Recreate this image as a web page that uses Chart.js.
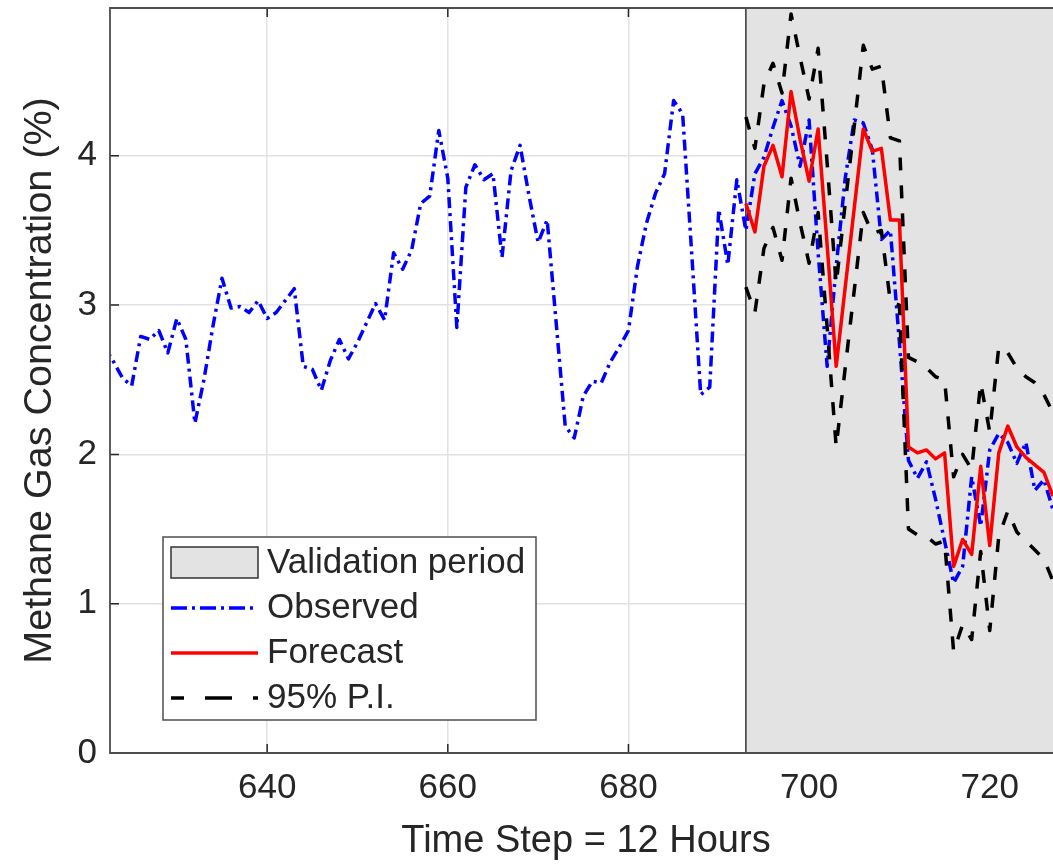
<!DOCTYPE html>
<html>
<head>
<meta charset="utf-8">
<title>Methane Gas Concentration</title>
<script src="https://cdn.jsdelivr.net/npm/chart.js@4.4.1/dist/chart.umd.min.js"></script>
<style>
    html, body { margin: 0; padding: 0; overflow: hidden; background: #fff; }
    canvas { display: block; }
</style>
</head>
<body>
<canvas id="myChart" width="1070" height="864"></canvas>
<script>
// observed series, one value per 12-hour step starting at step 622
var obsStart = 622;
var observed = [
    2.72, 2.62, 2.51, 2.46, 2.79, 2.77, 2.83, 2.68, 2.91, 2.77,
    2.21, 2.50, 2.86, 3.18, 2.98, 2.99, 2.95, 3.03, 2.91, 2.95,
    3.03, 3.11, 2.59, 2.57, 2.43, 2.63, 2.77, 2.64, 2.75, 2.88,
    3.01, 2.90, 3.35, 3.24, 3.37, 3.68, 3.73, 4.17, 3.85, 2.85,
    3.79, 3.94, 3.84, 3.88, 3.32, 3.90, 4.07, 3.73, 3.42, 3.57,
    2.88, 2.19, 2.11, 2.39, 2.49, 2.48, 2.62, 2.72, 2.83, 3.26,
    3.55, 3.75, 3.88, 4.37, 4.28, 3.35, 2.40, 2.45, 3.64, 3.27,
    3.84, 3.50, 3.88, 3.99, 4.19, 4.37, 4.20, 3.93, 4.24, 3.35,
    2.59, 3.26, 3.85, 4.24, 4.22, 4.04, 3.44, 3.50, 2.75, 1.96,
    1.84, 1.95, 1.70, 1.42, 1.14, 1.25, 1.85, 1.52, 2.03, 2.14,
    2.08, 1.94, 2.08, 1.76, 1.83, 1.63
];

// forecast and 95% prediction interval, starting at step 693
var fcStart = 693;
var forecast = [
    3.68, 3.49, 3.93, 4.07, 3.86, 4.43, 4.11, 3.83, 4.18, 3.40,
    2.59, 3.12, 3.65, 4.18, 4.03, 4.05, 3.57, 3.57, 2.05, 2.01,
    2.03, 1.97, 2.01, 1.25, 1.43, 1.33, 1.92, 1.39, 2.01, 2.19,
    2.05, 1.98, 1.93, 1.88, 1.72
];
var upperPI = [
    4.26, 4.05, 4.48, 4.62, 4.42, 4.95, 4.66, 4.38, 4.72, 3.95,
    3.14, 3.68, 4.20, 4.74, 4.58, 4.60, 4.12, 4.10, 2.65, 2.62,
    2.58, 2.52, 2.50, 1.85, 2.00, 1.90, 2.48, 2.15, 2.72, 2.68,
    2.58, 2.52, 2.48, 2.40, 2.28
];
var lowerPI = [
    3.12, 2.95, 3.38, 3.52, 3.30, 3.85, 3.55, 3.28, 3.62, 2.85,
    2.05, 2.58, 3.10, 3.62, 3.48, 3.50, 3.02, 3.00, 1.50, 1.46,
    1.45, 1.40, 1.42, 0.68, 0.86, 0.76, 1.35, 0.82, 1.45, 1.62,
    1.48, 1.42, 1.36, 1.30, 1.15
];

var validationStart = 693;
var xTicks = [640, 660, 680, 700, 720];
var yTicks = [0, 1, 2, 3, 4];
var legendLabels = ['Validation period', 'Observed', 'Forecast', '95% P.I.'];

var fontFamily = '"Liberation Sans", Arial, Helvetica, sans-serif';
var textColor = '#262626';
var patchColor = '#e3e3e3';

function toPoints(start, values) {
    return values.map(function (v, i) {
        return { x: start + i, y: v };
    });
}

// shaded validation period, MATLAB-like box axes and the legend
var periodPlugin = {
    id: 'periodPlugin',
    beforeDatasetsDraw: function (chart) {
        var ctx = chart.ctx;
        var area = chart.chartArea;
        var xs = chart.scales.x;
        var ys = chart.scales.y;
        ctx.save();
        ctx.strokeStyle = textColor;
        ctx.lineWidth = 1.5;
        ctx.beginPath();
        xTicks.forEach(function (t) {
            var px = xs.getPixelForValue(t);
            ctx.moveTo(px, area.bottom);
            ctx.lineTo(px, area.bottom - 9);
            ctx.moveTo(px, area.top);
            ctx.lineTo(px, area.top + 9);
        });
        yTicks.forEach(function (t) {
            var py = ys.getPixelForValue(t);
            ctx.moveTo(area.left, py);
            ctx.lineTo(area.left + 9, py);
        });
        ctx.stroke();

        var x0 = xs.getPixelForValue(validationStart);
        ctx.fillStyle = patchColor;
        ctx.fillRect(x0, area.top, area.right - x0, area.bottom - area.top);
        ctx.strokeStyle = '#333333';
        ctx.lineWidth = 1.5;
        ctx.beginPath();
        ctx.moveTo(x0, area.top);
        ctx.lineTo(x0, area.bottom);
        ctx.stroke();
        ctx.restore();
    },
    afterDatasetsDraw: function (chart) {
        var ctx = chart.ctx;
        var area = chart.chartArea;
        ctx.save();
        ctx.strokeStyle = '#4d4d4d';
        ctx.lineWidth = 1.8;
        ctx.beginPath();
        ctx.moveTo(area.right, area.top);
        ctx.lineTo(area.left, area.top);
        ctx.lineTo(area.left, area.bottom);
        ctx.lineTo(area.right, area.bottom);
        ctx.stroke();
        ctx.restore();
    },
    afterDraw: function (chart) {
        var ctx = chart.ctx;
        var left = 163, top = 537, right = 536, bottom = 720;
        var rowY = [563, 608, 653, 698];
        var sx0 = 171, sx1 = 258, tx = 267;
        ctx.save();
        ctx.fillStyle = '#ffffff';
        ctx.fillRect(left, top, right - left, bottom - top);
        ctx.strokeStyle = '#4d4d4d';
        ctx.lineWidth = 1.5;
        ctx.strokeRect(left, top, right - left, bottom - top);

        // validation period swatch
        ctx.fillStyle = patchColor;
        ctx.fillRect(sx0, 547, sx1 - sx0, 31);
        ctx.strokeStyle = '#333333';
        ctx.strokeRect(sx0, 547, sx1 - sx0, 31);

        ctx.lineWidth = 3.5;
        ctx.strokeStyle = '#0000ff';
        ctx.setLineDash([16, 5, 3, 5]);
        ctx.beginPath();
        ctx.moveTo(sx0, rowY[1]);
        ctx.lineTo(sx1, rowY[1]);
        ctx.stroke();

        ctx.strokeStyle = '#ff0000';
        ctx.setLineDash([]);
        ctx.beginPath();
        ctx.moveTo(sx0, rowY[2]);
        ctx.lineTo(sx1, rowY[2]);
        ctx.stroke();

        ctx.strokeStyle = '#000000';
        ctx.setLineDash([27, 21]);
        ctx.lineDashOffset = 14;
        ctx.beginPath();
        ctx.moveTo(sx0, rowY[3]);
        ctx.lineTo(sx1, rowY[3]);
        ctx.stroke();
        ctx.setLineDash([]);

        ctx.fillStyle = textColor;
        ctx.font = '35px ' + fontFamily;
        ctx.textBaseline = 'middle';
        ctx.textAlign = 'left';
        legendLabels.forEach(function (label, i) {
            ctx.fillText(label, tx, rowY[i]);
        });
        ctx.restore();
    }
};

document.addEventListener('DOMContentLoaded', function () {
    var ctx = document.getElementById('myChart').getContext('2d');

    var myChart = new Chart(ctx, {
        type: 'line',
        data: {
            datasets: [{
                label: 'Observed',
                data: toPoints(obsStart, observed),
                borderColor: '#0000ff',
                borderWidth: 3.5,
                borderDash: [11, 5, 3, 5],
                order: 3
            }, {
                label: 'Forecast',
                data: toPoints(fcStart, forecast),
                borderColor: '#ff0000',
                borderWidth: 3.5,
                order: 2
            }, {
                label: '95% P.I.',
                data: toPoints(fcStart, upperPI),
                borderColor: '#000000',
                borderWidth: 3.5,
                borderDash: [13, 15],
                order: 1
            }, {
                label: '95% P.I. (lower)',
                data: toPoints(fcStart, lowerPI),
                borderColor: '#000000',
                borderWidth: 3.5,
                borderDash: [13, 15],
                order: 1
            }]
        },
        options: {
            responsive: false,
            animation: false,
            devicePixelRatio: 1,
            layout: {
                padding: { top: 8, right: 8, left: 0, bottom: 0 }
            },
            elements: {
                point: { radius: 0 },
                line: { tension: 0, fill: false, borderJoinStyle: 'round' }
            },
            plugins: {
                legend: { display: false },
                tooltip: { enabled: false }
            },
            scales: {
                x: {
                    type: 'linear',
                    min: 622.6,
                    max: 728,
                    afterBuildTicks: function (scale) {
                        scale.ticks = xTicks.map(function (v) { return { value: v }; });
                    },
                    afterFit: function (scale) {
                        scale.height = 111;
                        scale.paddingLeft = 0;
                        scale.paddingRight = 0;
                    },
                    grid: { color: '#e2e2e2', lineWidth: 1.5, drawTicks: false },
                    border: { display: false },
                    ticks: {
                        color: textColor,
                        padding: 14,
                        maxRotation: 0,
                        font: { family: fontFamily, size: 35 }
                    },
                    title: {
                        display: true,
                        text: 'Time Step = 12 Hours',
                        color: textColor,
                        padding: { top: 0, bottom: 0 },
                        font: { family: fontFamily, size: 38 }
                    }
                },
                y: {
                    min: 0,
                    max: 4.99,
                    afterBuildTicks: function (scale) {
                        scale.ticks = yTicks.map(function (v) { return { value: v }; });
                    },
                    afterFit: function (scale) {
                        scale.width = 110;
                        scale.paddingTop = 0;
                        scale.paddingBottom = 0;
                    },
                    grid: { color: '#e2e2e2', lineWidth: 1.5, drawTicks: false },
                    border: { display: false },
                    ticks: {
                        color: textColor,
                        padding: 13,
                        font: { family: fontFamily, size: 35 }
                    },
                    title: {
                        display: true,
                        text: 'Methane Gas Concentration (%)',
                        color: textColor,
                        padding: { top: 16, bottom: 0 },
                        font: { family: fontFamily, size: 39.5 }
                    }
                }
            }
        },
        plugins: [periodPlugin]
    });
});
</script>
</body>
</html>
